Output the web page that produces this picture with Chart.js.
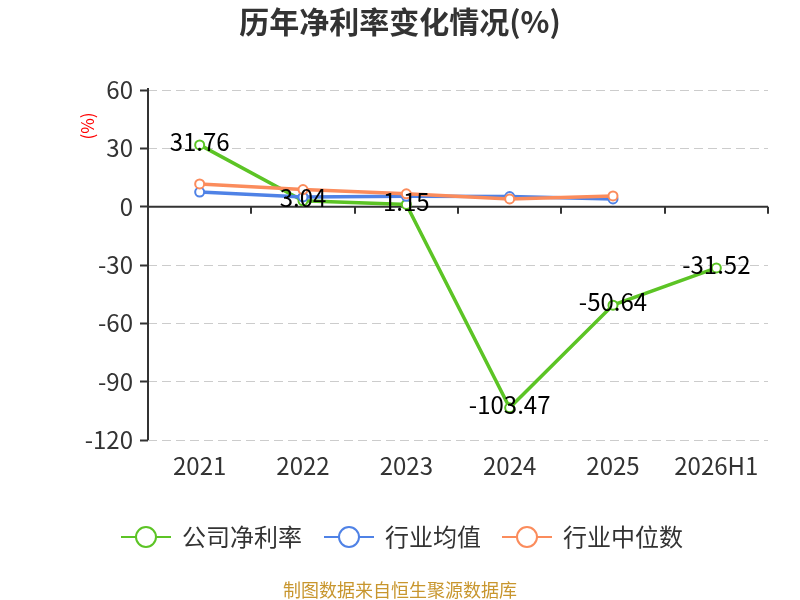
<!DOCTYPE html>
<html lang="zh-CN">
<head>
<meta charset="UTF-8" />
<title>历年净利率变化情况(%)</title>
<script src="https://cdn.jsdelivr.net/npm/chart.js"></script>
<style>
	html, body { margin: 0; padding: 0; background: #ffffff; }
	.wrap { position: relative; width: 800px; height: 600px; }
</style>
</head>
<body>
<div class="wrap"><canvas id="chart" width="800" height="600"></canvas></div>
<script>
const categories = ['2021', '2022', '2023', '2024', '2025', '2026H1'];
const companyMargin = [31.76, 3.04, 1.15, -103.47, -50.64, -31.52];
const industryAverage = [7.5, 5.0, 5.3, 5.2, 4.0, null];
const industryMedian = [11.7, 8.8, 6.6, 4.0, 5.5, null];
const yTicks = [60, 30, 0, -30, -60, -90, -120];

const FONT = '"Noto Sans CJK SC", "Noto Sans", sans-serif';
const GREEN = '#5cc425';
const BLUE = '#4f82e6';
const ORANGE = '#fb8c5c';

const seriesList = [
	{ label: '公司净利率', data: companyMargin, color: GREEN },
	{ label: '行业均值', data: industryAverage, color: BLUE },
	{ label: '行业中位数', data: industryMedian, color: ORANGE },
];

const decorPlugin = {
	id: 'decor',
	beforeDatasetsDraw(chart) {
		const { ctx, chartArea, scales } = chart;
		const y0 = scales.y.getPixelForValue(0);
		ctx.save();
		// y axis line
		ctx.strokeStyle = '#333333';
		ctx.lineWidth = 2;
		ctx.beginPath();
		ctx.moveTo(chartArea.left, chartArea.top - 2);
		ctx.lineTo(chartArea.left, chartArea.bottom);
		ctx.stroke();
		// zero line with category ticks
		ctx.beginPath();
		ctx.moveTo(chartArea.left, y0);
		ctx.lineTo(chartArea.right, y0);
		const step = (chartArea.right - chartArea.left) / categories.length;
		for (let i = 1; i <= categories.length; i++) {
			const x = Math.round(chartArea.left + i * step);
			ctx.moveTo(x, y0);
			ctx.lineTo(x, y0 + 7);
		}
		ctx.stroke();
		ctx.restore();
	},
	afterDraw(chart) {
		const { ctx } = chart;
		ctx.save();
		// value labels for the company series
		const idx = chart.data.datasets.findIndex((d) => d.label === '公司净利率');
		const meta = chart.getDatasetMeta(idx);
		ctx.font = `24px ${FONT}`;
		ctx.fillStyle = '#000000';
		ctx.textAlign = 'center';
		ctx.textBaseline = 'middle';
		meta.data.forEach((pt, i) => {
			ctx.fillText(companyMargin[i].toFixed(2), pt.x, pt.y - 3);
		});

		// title
		ctx.font = `bold 30px ${FONT}`;
		ctx.fillStyle = '#333333';
		ctx.fillText('历年净利率变化情况(%)', 400, 22);

		// unit label
		ctx.save();
		ctx.translate(88, 126);
		ctx.rotate(-Math.PI / 2);
		ctx.font = `17px ${FONT}`;
		ctx.fillStyle = '#ff0000';
		ctx.fillText('(%)', 0, 0);
		ctx.restore();

		// legend
		const legendY = 537;
		const legendX = [121, 324, 502];
		ctx.font = `24px ${FONT}`;
		ctx.textAlign = 'left';
		seriesList.forEach((s, i) => {
			const x = legendX[i];
			ctx.strokeStyle = s.color;
			ctx.lineWidth = 2;
			ctx.beginPath();
			ctx.moveTo(x, legendY);
			ctx.lineTo(x + 50, legendY);
			ctx.stroke();
			ctx.beginPath();
			ctx.arc(x + 25, legendY, 10, 0, Math.PI * 2);
			ctx.fillStyle = '#ffffff';
			ctx.fill();
			ctx.stroke();
			ctx.fillStyle = '#333333';
			ctx.fillText(s.label, x + 61, legendY);
		});

		// footer
		ctx.font = `18px ${FONT}`;
		ctx.fillStyle = '#c8962e';
		ctx.textAlign = 'center';
		ctx.fillText('制图数据来自恒生聚源数据库', 400, 590);
		ctx.restore();
	},
};

new Chart(document.getElementById('chart'), {
	type: 'line',
	data: {
		labels: categories,
		datasets: seriesList.map((s) => ({
			label: s.label,
			data: s.data,
			borderColor: s.color,
			backgroundColor: '#ffffff',
			pointBackgroundColor: '#ffffff',
			pointBorderColor: s.color,
			pointBorderWidth: 2,
			pointRadius: 4.5,
			borderWidth: 3.5,
			tension: 0,
			spanGaps: false,
		})).reverse(),
	},
	options: {
		responsive: false,
		animation: false,
		devicePixelRatio: 1,
		layout: { padding: { top: 90, right: 32, left: 0, bottom: 0 } },
		plugins: {
			legend: { display: false },
			title: { display: false },
			tooltip: { enabled: false },
		},
		scales: {
			x: {
				offset: true,
				afterFit(scale) { scale.height = 160; },
				grid: { display: false, drawTicks: false },
				border: { display: false },
				ticks: {
					padding: 11,
					color: '#333333',
					font: { family: FONT, size: 24 },
				},
			},
			y: {
				min: -120,
				max: 60,
				afterFit(scale) { scale.width = 148; },
				afterBuildTicks(scale) { scale.ticks = yTicks.map((v) => ({ value: v })); },
				grid: {
					color: '#cccccc',
					lineWidth: 1,
					drawTicks: true,
					tickLength: 8,
					tickColor: '#333333',
					tickWidth: 2,
					tickBorderDash: [],
				},
				border: { display: false, dash: [9, 5] },
				ticks: {
					padding: 7,
					color: '#333333',
					font: { family: FONT, size: 24 },
				},
			},
		},
	},
	plugins: [decorPlugin],
});
</script>
</body>
</html>
